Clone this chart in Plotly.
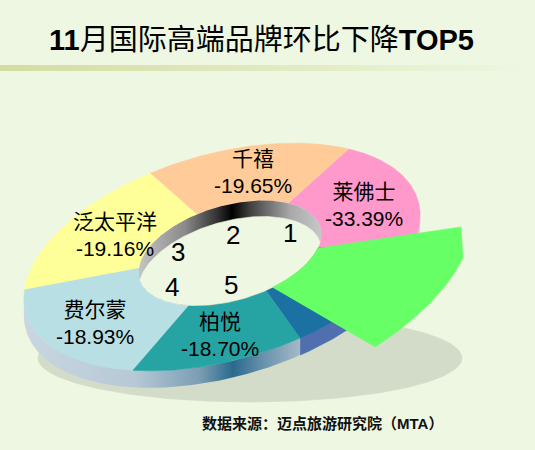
import numpy as np
import plotly.graph_objects as go

# ---------------- data ----------------
brands = ["莱佛士", "千禧", "泛太平洋", "费尔蒙", "柏悦"]
changes = [-33.39, -19.65, -19.16, -18.93, -18.70]
ranks = [1, 2, 3, 4, 5]
title_text = "<b>11</b>月国际高端品牌环比下降<b>TOP5</b>"
source_text = "<b>数据来源：迈点旅游研究院（MTA）</b>"

# ---------------- style / geometry ----------------
BG = "#eef7e2"
FONT = "Liberation Sans, Arial, Noto Sans CJK SC"
slice_colors = ["#ff99cc", "#ffcc99", "#ffff99", "#b8dfe3", "#26a4a4"]
slice_bounds = [(-24, 42), (42, 103), (103, 167), (167, 235), (235, 285)]
extra_bounds = (285, 336)
extra_color = "#1b71a2"
extra_wall = "#4f6fae"
green_color = "#66ff66"
label_t = [8, 70, 134, 202, 261]
label_r = [0.747, 0.757, 0.685, 0.741, 0.731]
rank_t = [5, 76, 149, 207, 263]
rank_r = [0.67, 0.36, 0.62, 0.78, 0.66]

PHI = np.deg2rad(16)
C, S = np.cos(PHI), np.sin(PHI)
OUT = (222, 257, 204, 103)
INN = (230, 253, 94, 47.5)
WALL_H = 17
RIM_H = 16


def ell(e, t_deg, k=1.0, dy=0.0):
    cx, cy, a, b = e
    t = np.deg2rad(np.asarray(t_deg, float))
    k = np.asarray(k, float)
    u = k * a * np.cos(t)
    v = k * b * np.sin(t)
    x = cx + u * C - v * S
    y = cy - (u * S + v * C) + dy
    return x, y


def inside(e, x, y, dy=0.0):
    cx, cy, a, b = e
    dx = x - cx
    dY = (cy + dy) - y
    u = dx * C + dY * S
    v = -dx * S + dY * C
    return (u / a) ** 2 + (v / b) ** 2 <= 1 + 1e-9


def poly(x, y, color, width=0.6):
    return go.Scatter(x=list(x), y=list(y), mode="lines", fill="toself",
                      fillcolor=color, line=dict(color=color, width=width),
                      hoverinfo="skip", showlegend=False)


def gpoly(x, y, scale, start, stop):
    return go.Scatter(x=list(x), y=list(y), mode="lines", fill="toself",
                      fillgradient=dict(type="horizontal", colorscale=scale,
                                        start=start, stop=stop),
                      line=dict(width=0), hoverinfo="skip", showlegend=False)


fig = go.Figure()

# title underline bar
fig.add_trace(gpoly([0, 535, 535, 0], [65, 65, 71, 71],
                    [[0, "#d2dda1"], [0.6, "#e3ecc6"], [1, BG]], 0, 535))

# shadow
ts = np.linspace(0, 360, 241)
fig.add_trace(poly(250 + 212 * np.cos(np.deg2rad(ts)),
                   358 - 44 * np.sin(np.deg2rad(ts)), "#d3dbc9"))

# outer wall (front band)
t_r = np.degrees(np.arctan(-OUT[3] * np.tan(PHI) / OUT[2]))
t_l = t_r + 180
ts = np.linspace(t_l, t_r + 360, 300)
x1, y1 = ell(OUT, ts, dy=WALL_H)
x2, y2 = ell(OUT, ts[::-1])
wx = np.concatenate([x1, x2])
wy = np.concatenate([y1, y2])
x0, xN = wx.min(), wx.max()
def nx(v):
    return float(np.clip((v - x0) / (xN - x0), 0, 1))
wall_scale = [[0, "#cad6e1"], [nx(135), "#b6c9d6"], [nx(200), "#7b9db4"],
              [nx(233), "#2a6a8d"], [nx(262), "#6690aa"], [nx(300), "#a3bac8"],
              [1, "#cbd9e3"]]
fig.add_trace(gpoly(wx, wy, wall_scale, x0, xN))

# dark-blue segment wall
ts = np.linspace(extra_bounds[0], extra_bounds[1], 80)
x1, y1 = ell(OUT, ts)
x2, y2 = ell(OUT, ts[::-1], dy=WALL_H)
fig.add_trace(poly(np.concatenate([x1, x2]), np.concatenate([y1, y2]), extra_wall))

# top surface slices
def sector(t1, t2):
    ts = np.linspace(t1, t2, 90)
    xi, yi = ell(INN, ts)
    xo, yo = ell(OUT, ts[::-1])
    return np.concatenate([xi, xo]), np.concatenate([yi, yo])

for (t1, t2), col in zip(slice_bounds, slice_colors):
    x, y = sector(t1, t2)
    fig.add_trace(poly(x, y, col))
x, y = sector(*extra_bounds)
fig.add_trace(poly(x, y, extra_color))

# inner rim (hole wall) + floor
ts = np.linspace(0, 360, 361)
hx, hy = ell(INN, ts)
h0, h1 = hx.min(), hx.max()
def nh(v):
    return float(np.clip((v - h0) / (h1 - h0), 0, 1))
rim_scale = [[0, "#c4c4c4"], [nh(185), "#8a8a8a"], [nh(218), "#303030"],
             [nh(232), "#000000"], [nh(250), "#404040"], [nh(290), "#a8a8a8"],
             [1, "#c8c8c8"]]
fig.add_trace(gpoly(hx, hy, rim_scale, h0, h1))
sx, sy = ell(INN, ts, dy=RIM_H)
ma = inside(INN, hx, hy, dy=RIM_H)
mb = inside(INN, sx, sy)
fx = np.concatenate([hx[ma], sx[mb]])
fy = np.concatenate([hy[ma], sy[mb]])
order = np.argsort(np.arctan2(fy - (INN[1] + RIM_H / 2), fx - INN[0]))
fig.add_trace(poly(fx[order], fy[order], BG))

# green pulled-out piece
ti = np.linspace(-70.5, -24.4, 60)
gx1, gy1 = ell(INN, ti)
cx1, cy1 = ell(OUT, [-17.1], k=[1.221])
to = np.linspace(-30.0, -64.4, 60)
gx2, gy2 = ell(OUT, to, k=np.linspace(1.309, 1.386, 60))
fig.add_trace(poly(np.concatenate([gx1, cx1, gx2]),
                   np.concatenate([gy1, cy1, gy2]), green_color))

# labels
for i in range(len(brands)):
    lx, ly = ell(OUT, label_t[i], k=label_r[i])
    fig.add_annotation(x=float(lx), y=float(ly), xref="x", yref="y",
                       text=f"{brands[i]}<br>{changes[i]:.2f}%", showarrow=False,
                       font=dict(family=FONT, size=21, color="#000000"),
                       xanchor="center", yanchor="middle", align="center")
for i in range(len(ranks)):
    rx, ry = ell(INN, rank_t[i], k=rank_r[i])
    fig.add_annotation(x=float(rx), y=float(ry), xref="x", yref="y",
                       text=str(ranks[i]), showarrow=False,
                       font=dict(family=FONT, size=26, color="#000000"),
                       xanchor="center", yanchor="middle")

fig.add_annotation(x=261.5, y=40, xref="x", yref="y", text=title_text,
                   showarrow=False, font=dict(family=FONT, size=29, color="#000000"),
                   xanchor="center", yanchor="middle")
fig.add_annotation(x=322, y=423, xref="x", yref="y", text=source_text,
                   showarrow=False, font=dict(family=FONT, size=15, color="#111111"),
                   xanchor="center", yanchor="middle")

fig.update_layout(width=535, height=450, margin=dict(l=0, r=0, t=0, b=0),
                  paper_bgcolor=BG, plot_bgcolor=BG, showlegend=False,
                  xaxis=dict(range=[0, 535], visible=False, fixedrange=True),
                  yaxis=dict(range=[450, 0], visible=False, fixedrange=True))

fig.write_html("out.html", config={"displayModeBar": False, "staticPlot": True},
               post_script="document.body.style.margin='0';document.body.style.overflow='hidden';")
